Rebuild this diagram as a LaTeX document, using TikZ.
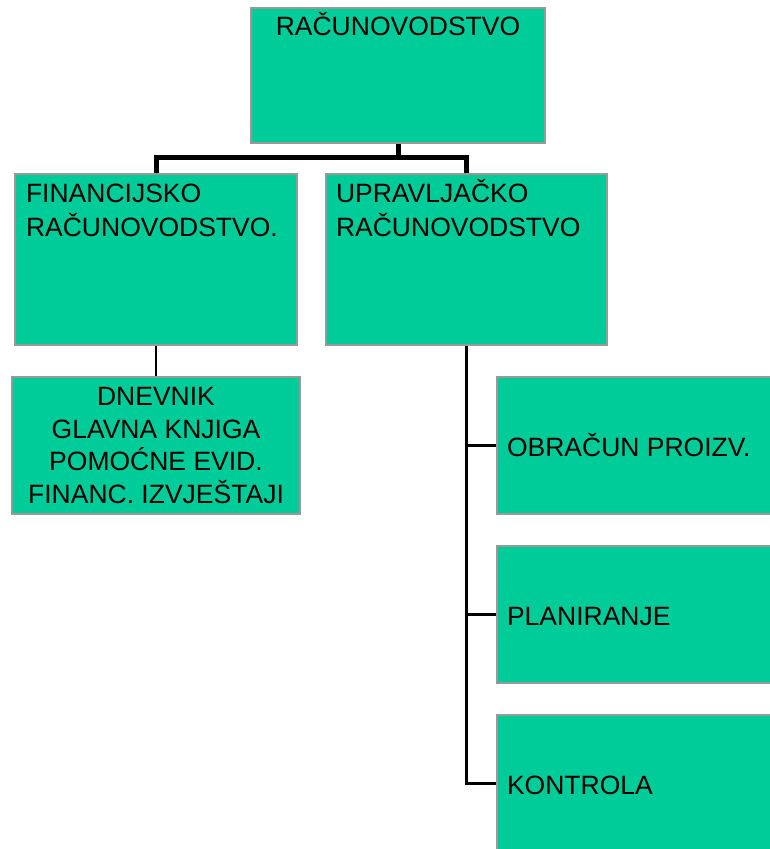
\documentclass[tikz,border=0pt]{standalone}
\usepackage{fontspec}
\setmainfont{Liberation Sans}
\usepackage{tikz}
\definecolor{boxgreen}{RGB}{0,204,153}
\definecolor{boxgray}{RGB}{153,153,153}
\tikzset{
  unitbox/.style={rectangle, draw=boxgray, fill=boxgreen, line width=2.3pt, inner sep=0pt},
  unittext/.style={inner sep=0pt, font=\fontsize{26.5}{34}\selectfont, align=left},
  busline/.style={line width=5pt, line join=miter},
  branchline/.style={line width=2.3pt},
}
\begin{document}
\begin{tikzpicture}[x=1pt, y=-1pt]
			\useasboundingbox (0,0) rectangle (769,849);
			% boxes
			\node [unitbox, minimum width=294pt, minimum height=135pt] (rac) at (398,75.5) {};
			\node [unitbox, minimum width=282pt, minimum height=171pt] (fin) at (156,259.5) {};
			\node [unitbox, minimum width=281pt, minimum height=171pt] (upr) at (466.5,259.5) {};
			\node [unitbox, minimum width=288pt, minimum height=137pt] (dnev) at (156,445.5) {};
			\node [unitbox, minimum width=360pt, minimum height=137pt] (obr) at (677,445.5) {};
			\node [unitbox, minimum width=360pt, minimum height=137pt] (plan) at (677,614.5) {};
			\node [unitbox, minimum width=360pt, minimum height=137pt] (kontr) at (677,783.5) {};
			% texts
			\node [unittext, anchor=base] (racT) at ([yshift=-29pt]rac.north) {RAČUNOVODSTVO};
			\node [unittext, anchor=base west] (finT) at ([xshift=12pt, yshift=-64pt]fin.north west) {FINANCIJSKO\\RAČUNOVODSTVO.};
			\node [unittext, anchor=base west] (uprT) at ([xshift=11pt, yshift=-64pt]upr.north west) {UPRAVLJAČKO\\RAČUNOVODSTVO};
			\node [unittext, align=center, font=\fontsize{26.5}{32.5}\selectfont] (dnevT) at (dnev.center) {DNEVNIK\\GLAVNA KNJIGA\\POMOĆNE EVID.\\FINANC. IZVJEŠTAJI};
			\node [unittext, anchor=base west] (obrT) at ([xshift=11pt, yshift=-10.5pt]obr.west) {OBRAČUN PROIZV.};
			\node [unittext, anchor=base west] (planT) at ([xshift=11pt, yshift=-10.5pt]plan.west) {PLANIRANJE};
			\node [unittext, anchor=base west] (kontrT) at ([xshift=11pt, yshift=-10.5pt]kontr.west) {KONTROLA};
			% connectors
			\coordinate (bus) at (398,157);
			\draw [busline] (rac.south) -- (bus);
			\draw [busline] (fin.north) |- (bus) -| (upr.north);
			\draw [branchline] (fin.south) -- (dnev.north);
			\draw [branchline] (upr.south) |- (kontr.west);
			\foreach \n in {obr, plan}
				\draw [branchline] (upr.south |- \n.west) -- (\n.west);
		\end{tikzpicture}
\end{document}
